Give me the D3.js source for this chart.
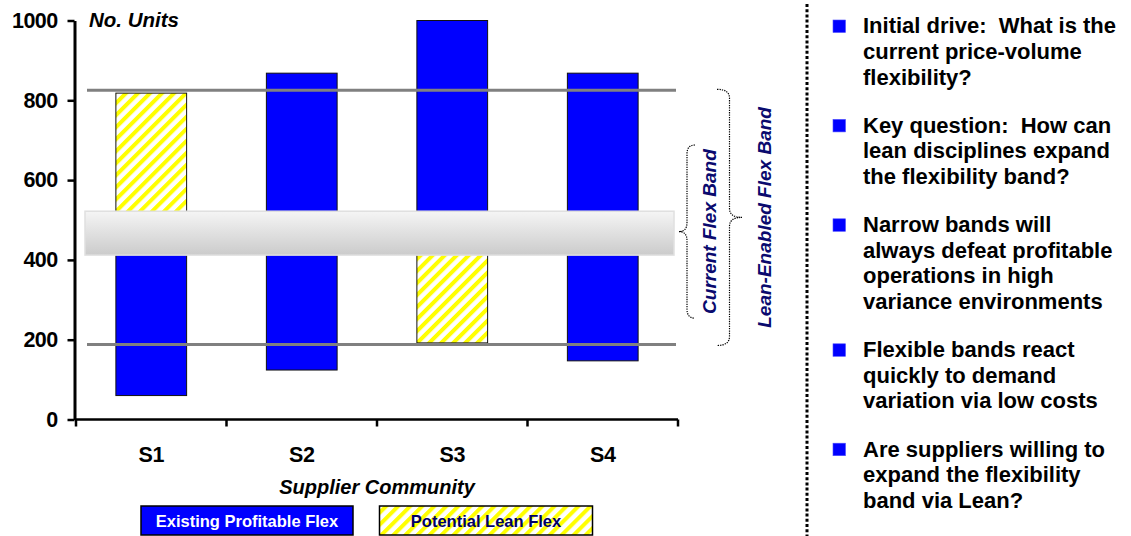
<!DOCTYPE html>
<html>
<head>
<meta charset="utf-8">
<script src="https://cdn.jsdelivr.net/npm/d3@7"></script>
<style>
  html, body { margin: 0; padding: 0; background: #fff; }
  svg { display: block; font-family: "Liberation Sans", Arial, sans-serif; }
  text { white-space: pre; }
</style>
</head>
<body>
<svg id="chart" width="1131" height="536"></svg>
<script>
// ---- data ----
const suppliers = ["S1", "S2", "S3", "S4"];
// existing profitable flex range per supplier (low, high)
const existingLow  = [60, 124, 460, 147];
const existingHigh = [460, 868, 1000, 868];
// potential lean flex range per supplier (null = none)
const leanLow  = [460, null, 192, null];
const leanHigh = [818, null, 460, null];
const seriesNames = ["Existing Profitable Flex", "Potential Lean Flex"];
const yTicks = [0, 200, 400, 600, 800, 1000];
const flexLines = [825, 188];          // lean-enabled band limits
const currentBand = [412, 522];        // current flex band
const currentBrace = [688, 254];
const braceLabels = ["Current Flex Band", "Lean-Enabled Flex Band"];
const yTitle = "No. Units";
const xTitle = "Supplier Community";
const bullets = [
  ["Initial drive:  What is the", "current price-volume", "flexibility?"],
  ["Key question:  How can", "lean disciplines expand", "the flexibility band?"],
  ["Narrow bands will", "always defeat profitable", "operations in high", "variance environments"],
  ["Flexible bands react", "quickly to demand", "variation via low costs"],
  ["Are suppliers willing to", "expand the flexibility", "band via Lean?"]
];

const BLUE = "#0000ff", NAVY = "#0a0a6e";
const svg = d3.select("#chart");

// ---- defs: hatch + band gradient ----
const defs = svg.append("defs");
const hatch = defs.append("pattern")
  .attr("id", "hatch").attr("patternUnits", "userSpaceOnUse")
  .attr("width", 8.5).attr("height", 8.5)
  .attr("patternTransform", "rotate(45)");
hatch.append("rect").attr("width", 8.5).attr("height", 8.5).attr("fill", "#fff");
hatch.append("rect").attr("width", 4).attr("height", 8.5).attr("fill", "#ffff00");

const grad = defs.append("linearGradient").attr("id", "bandGrad")
  .attr("x1", 0).attr("y1", 0).attr("x2", 0).attr("y2", 1);
grad.append("stop").attr("offset", "0%").attr("stop-color", "#f5f5f5");
grad.append("stop").attr("offset", "100%").attr("stop-color", "#cbcbcb");

// ---- scales ----
const x = d3.scaleBand().domain(suppliers).range([76, 678])
  .paddingInner(0.53).paddingOuter(0.265);
const y = d3.scaleLinear().domain([0, 1000]).range([419.5, 20.5]);

// ---- bars ----
const gBars = svg.append("g");
const segs = [];
suppliers.forEach((s, i) => {
  segs.push({ s, lo: existingLow[i], hi: existingHigh[i], fill: BLUE });
  if (leanLow[i] != null) segs.push({ s, lo: leanLow[i], hi: leanHigh[i], fill: "url(#hatch)" });
});
gBars.selectAll("rect").data(segs).join("rect")
  .attr("x", d => x(d.s))
  .attr("width", x.bandwidth())
  .attr("y", d => y(d.hi))
  .attr("height", d => y(d.lo) - y(d.hi))
  .attr("fill", d => d.fill)
  .attr("stroke", "#111").attr("stroke-width", 1);

// ---- flex limit lines ----
const [xr0, xr1] = x.range();
svg.append("g").selectAll("line").data(flexLines).join("line")
  .attr("x1", xr0 + 11).attr("x2", xr1 - 2)
  .attr("y1", d => y(d)).attr("y2", d => y(d))
  .attr("stroke", "#808080").attr("stroke-width", 3);

// ---- current band ----
svg.append("rect")
  .attr("x", xr0 + 9).attr("width", (xr1 - 4) - (xr0 + 9))
  .attr("y", y(currentBand[1])).attr("height", y(currentBand[0]) - y(currentBand[1]))
  .attr("fill", "url(#bandGrad)").attr("stroke", "#e0e0e0").attr("stroke-width", 1.5);

// ---- axes ----
const yAxis = svg.append("g").attr("transform", "translate(74.5,0)")
  .call(d3.axisLeft(y).tickValues(yTicks).tickFormat(d3.format("d"))
    .tickSize(7).tickSizeOuter(0).tickPadding(10));
yAxis.select(".domain").attr("stroke", "#000").attr("stroke-width", 3);
yAxis.selectAll(".tick line").attr("stroke", "#000").attr("stroke-width", 2.5);
yAxis.selectAll(".tick text")
  .attr("font-family", "'Liberation Sans', Arial, sans-serif")
  .attr("font-size", 21.5).attr("font-weight", "bold").attr("fill", "#000")
  .attr("letter-spacing", "-0.6px");

// x axis: baseline + boundary ticks
const boundaries = suppliers.map(s => x(s) - x.step() * x.paddingInner() / 2)
  .map((v, i) => i === 0 ? xr0 : v).concat([xr1]);
const gx = svg.append("g");
gx.append("line").attr("x1", xr0 - 1).attr("x2", xr1).attr("y1", y(0)).attr("y2", y(0))
  .attr("stroke", "#000").attr("stroke-width", 2.5);
gx.selectAll("line.tk").data(boundaries).join("line").attr("class", "tk")
  .attr("x1", d => d).attr("x2", d => d).attr("y1", y(0)).attr("y2", y(0) + 7)
  .attr("stroke", "#000").attr("stroke-width", 2.5);
gx.selectAll("text").data(suppliers).join("text")
  .attr("x", d => x(d) + x.bandwidth() / 2).attr("y", 461.7)
  .attr("text-anchor", "middle").attr("font-size", 21.5).attr("font-weight", "bold")
  .attr("letter-spacing", "-0.4px").text(d => d);

// axis titles
svg.append("text").attr("x", 89).attr("y", 26.5)
  .attr("font-size", 20.5).attr("font-weight", "bold").attr("font-style", "italic")
  .text(yTitle);
svg.append("text").attr("x", (xr0 + xr1) / 2).attr("y", 494)
  .attr("text-anchor", "middle").attr("font-size", 20).attr("font-weight", "bold")
  .attr("font-style", "italic").text(xTitle);

// ---- braces ----
function brace(xEnd, xTip, y1, y2) {
  const xm = (xEnd + xTip) / 2, ym = (y1 + y2) / 2, r = 9;
  const p = d3.path();
  p.moveTo(xEnd, y1);
  p.quadraticCurveTo(xm, y1, xm, y1 + r);
  p.lineTo(xm, ym - r);
  p.quadraticCurveTo(xm, ym, xTip, ym);
  p.quadraticCurveTo(xm, ym, xm, ym + r);
  p.lineTo(xm, y2 - r);
  p.quadraticCurveTo(xm, y2, xEnd, y2);
  return p.toString();
}
const gBr = svg.append("g").attr("fill", "none").attr("stroke", "#000")
  .attr("stroke-width", 1.2).attr("stroke-dasharray", "1.3,1.1");
gBr.append("path").attr("d", brace(695, 679, y(currentBrace[0]), y(currentBrace[1])));
gBr.append("path").attr("d", brace(717, 742, y(flexLines[0]) - 1, y(flexLines[1]) + 1));

svg.append("text")
  .attr("transform", `translate(716,${(y(currentBrace[0]) + y(currentBrace[1])) / 2}) rotate(-90)`)
  .attr("text-anchor", "middle").attr("font-size", 19).attr("font-weight", "bold")
  .attr("font-style", "italic").attr("fill", NAVY).text(braceLabels[0]);
svg.append("text")
  .attr("transform", `translate(771,${(y(flexLines[0]) + y(flexLines[1])) / 2}) rotate(-90)`)
  .attr("text-anchor", "middle").attr("font-size", 19).attr("font-weight", "bold")
  .attr("font-style", "italic").attr("fill", NAVY).text(braceLabels[1]);

// ---- dotted separator ----
svg.append("line").attr("x1", 807).attr("x2", 807).attr("y1", 4).attr("y2", 536)
  .attr("stroke", "#000").attr("stroke-width", 3).attr("stroke-dasharray", "3,2.2");

// ---- legend ----
const legend = [
  { name: seriesNames[0], x: 141, w: 212, fill: BLUE, color: "#fff" },
  { name: seriesNames[1], x: 379.5, w: 213, fill: "url(#hatch)", color: "#000066" }
];
const gl = svg.append("g").selectAll("g").data(legend).join("g");
gl.append("rect").attr("x", d => d.x).attr("y", 506).attr("width", d => d.w).attr("height", 29)
  .attr("fill", d => d.fill).attr("stroke", "#000").attr("stroke-width", 1.5);
gl.append("text").attr("x", d => d.x + d.w / 2).attr("y", 527)
  .attr("text-anchor", "middle").attr("font-size", 16.5).attr("font-weight", "bold")
  .attr("fill", d => d.color).text(d => d.name);

// ---- bullet list ----
const lineH = 25.6, gap = 22.6;
let base = 33.3;
const gList = svg.append("g");
bullets.forEach(lines => {
  gList.append("rect").attr("x", 833).attr("y", base - 13.3).attr("width", 12.5).attr("height", 12.5)
    .attr("fill", BLUE).attr("stroke", "#4d4dff").attr("stroke-width", 0.6);
  lines.forEach((t, j) => {
    gList.append("text").attr("x", 863).attr("y", base + j * lineH)
      .attr("font-size", 22).attr("font-weight", "bold").attr("fill", "#000").text(t);
  });
  base += lines.length * lineH + gap;
});
</script>
</body>
</html>
